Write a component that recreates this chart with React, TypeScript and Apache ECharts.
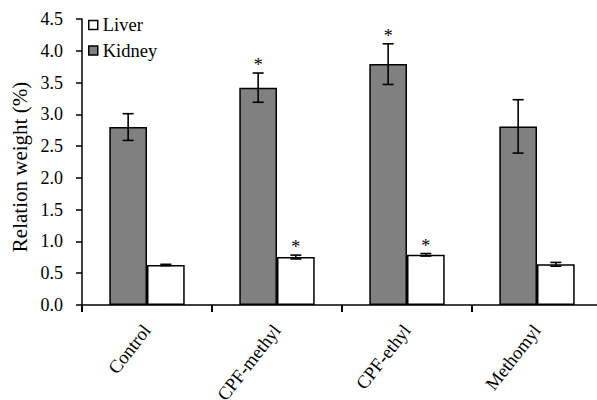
import React, { useEffect, useRef } from "react";
import * as echarts from "echarts";

const categories = ["Control", "CPF-methyl", "CPF-ethyl", "Methomyl"];
const kidney = [2.8, 3.42, 3.79, 2.81];
const kidneyErr = [0.21, 0.23, 0.32, 0.42];
const kidneySig = [0, 1, 1, 0];
const liver = [0.63, 0.755, 0.79, 0.64];
const liverErr = [0.01, 0.03, 0.02, 0.03];
const liverSig = [0, 1, 1, 0];
const yTicks = [0, 0.5, 1, 1.5, 2, 2.5, 3, 3.5, 4, 4.5];

const FONT = "Liberation Serif";
const BAR_FRAC = 0.29;

function errRender(side: number) {
  return (params: any, api: any) => {
    const i = api.value(0);
    const mean = api.value(1);
    const err = api.value(2);
    const sig = api.value(3);
    const band = api.size([1, 0])[0];
    const c = api.coord([i, mean]);
    const x = c[0] + side * band * BAR_FRAC / 2;
    const top = api.coord([i, mean + err])[1];
    const bot = api.coord([i, mean - err])[1];
    const cap = 5.5;
    const ls = { stroke: "#000", lineWidth: 1.6 };
    const children: any[] = [
      { type: "line", shape: { x1: x, y1: top, x2: x, y2: bot }, style: ls },
      { type: "line", shape: { x1: x - cap, y1: top, x2: x + cap, y2: top }, style: ls },
      { type: "line", shape: { x1: x - cap, y1: bot, x2: x + cap, y2: bot }, style: ls },
    ];
    if (sig) {
      children.push({
        type: "text",
        x: x,
        y: top - 8,
        style: {
          text: "*",
          fontFamily: FONT,
          fontSize: 18,
          fill: "#000",
          align: "center",
          verticalAlign: "middle",
        },
      });
    }
    return { type: "group", children };
  };
}

export default function App() {
  const ref = useRef<HTMLDivElement>(null);
  useEffect(() => {
    if (!ref.current) return;
    const chart = echarts.init(ref.current, null, { renderer: "svg" });
    chart.setOption({
      animation: false,
      backgroundColor: "#fff",
      grid: {
        left: 82,
        top: 19,
        width: 520,
        height: 286,
        containLabel: false,
        outerBoundsMode: "none",
      },
      legend: {
        orient: "vertical",
        left: 83,
        top: 10.5,
        itemWidth: 9,
        itemHeight: 9,
        itemGap: 6.5,
        icon: "rect",
        data: ["Liver", "Kidney"],
        itemStyle: { borderColor: "#000", borderWidth: 1.5 },
        textStyle: { fontFamily: FONT, fontSize: 18.5, color: "#000" },
      },
      xAxis: {
        type: "category",
        data: categories,
        boundaryGap: true,
        axisLine: { lineStyle: { color: "#000", width: 1.5 } },
        axisTick: {
          show: true,
          alignWithLabel: false,
          length: 7,
          lineStyle: { color: "#000", width: 2 },
        },
        axisLabel: {
          rotate: 52,
          interval: 0,
          margin: 22,
          fontFamily: FONT,
          fontSize: 18.5,
          color: "#000",
          hideOverlap: false,
        },
        splitLine: { show: false },
      },
      yAxis: {
        type: "value",
        min: yTicks[0],
        max: yTicks[yTicks.length - 1],
        interval: 0.5,
        axisLine: { show: true, lineStyle: { color: "#000", width: 1.5 } },
        axisTick: { show: true, inside: false, length: 6, lineStyle: { color: "#000", width: 1.5 } },
        axisLabel: {
          margin: 19,
          fontFamily: FONT,
          fontSize: 18,
          color: "#000",
          formatter: (v: number) => v.toFixed(1),
        },
        splitLine: { show: false },
      },
      graphic: [
        {
          type: "text",
          x: 20,
          y: 167,
          rotation: Math.PI / 2,
          style: {
            text: "Relation weight (%)",
            fontFamily: FONT,
            fontSize: 21,
            fill: "#000",
            align: "center",
            verticalAlign: "middle",
          },
        },
      ],
      series: [
        {
          name: "Kidney",
          type: "bar",
          data: kidney,
          barWidth: "29%",
          barGap: "0%",
          itemStyle: { color: "#808080", borderColor: "#000", borderWidth: 1.5 },
        },
        {
          name: "Liver",
          type: "bar",
          data: liver,
          barWidth: "29%",
          barGap: "0%",
          itemStyle: { color: "#ffffff", borderColor: "#000", borderWidth: 1.5 },
        },
        {
          name: "kidneyErr",
          type: "custom",
          z: 10,
          renderItem: errRender(-1),
          data: kidney.map((v, i) => [i, v, kidneyErr[i], kidneySig[i]]),
        },
        {
          name: "liverErr",
          type: "custom",
          z: 10,
          renderItem: errRender(1),
          data: liver.map((v, i) => [i, v, liverErr[i], liverSig[i]]),
        },
      ],
    });
    return () => chart.dispose();
  }, []);
  return (
    <div
      ref={ref}
      style={{ position: "fixed", left: 0, top: 0, width: 597, height: 400 }}
    />
  );
}
